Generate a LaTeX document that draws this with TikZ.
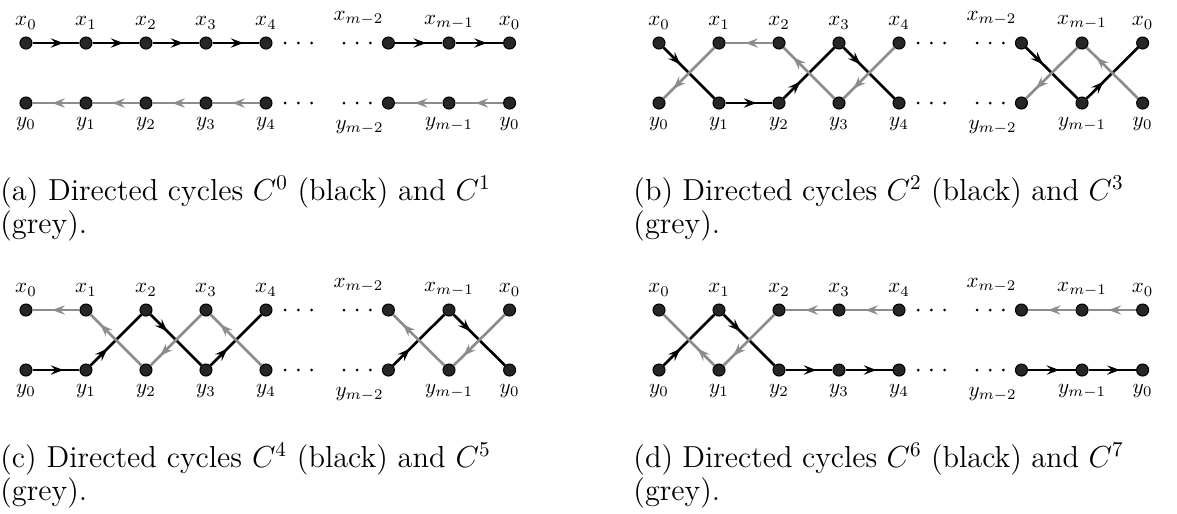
\documentclass[tikz,border=0pt]{standalone}
\usepackage{amsmath}
\usetikzlibrary{arrows.meta,decorations.markings}
\definecolor{cgrey}{gray}{0.55}

\begin{document}
\begin{tikzpicture}[
  vertex/.style={circle, draw=black, fill=black!85, line width=0.5pt, inner sep=0pt, minimum size=2mm},
  arrowat/.style={postaction={decorate}, decoration={markings, mark=at position #1 with {\arrow{Stealth[length=6pt,width=4.4pt,inset=2.2pt]}}}},
  blackarc/.style={line width=1.25pt, color=black, arrowat=#1},
  greyarc/.style={line width=1.25pt, color=cgrey, arrowat=#1},
  subcap/.style={anchor=north west, inner sep=0pt, font=\fontsize{14.4}{12.9}\selectfont}
]
  \useasboundingbox (-0.433,-7.833) rectangle (19.183,0.717);

  % vertices of the four panels
  \foreach \p/\ox/\oy in {a/0/0, b/10.55/0, c/0/-4.45, d/10.55/-4.45} {
    \begin{scope}[shift={(\ox,\oy)}]
      \foreach \i in {0,...,4} {
        \node[vertex, label=above:{$x_{\i}$}] (\p x\i) at (\i,0) {};
        \node[vertex, label=below:{$y_{\i}$}] (\p y\i) at (\i,-1) {};
      }
      \node[vertex, label={[xshift=-0.5cm,yshift=0.06cm]above:{$x_{m-2}$}}] (\p xa) at (6.04,0) {};
      \node[vertex, label=above:{$x_{m-1}$}] (\p xb) at (7.05,0) {};
      \node[vertex, label=above:{$x_0$}] (\p xc) at (8.06,0) {};
      \node[vertex, label={[xshift=-0.48cm,yshift=-0.05cm]below:{$y_{m-2}$}}] (\p ya) at (6.04,-1) {};
      \node[vertex, label=below:{$y_{m-1}$}] (\p yb) at (7.05,-1) {};
      \node[vertex, label=below:{$y_0$}] (\p yc) at (8.06,-1) {};
      \foreach \d in {4.32,4.54,4.76,5.3,5.52,5.74} {
        \fill (\d,0) circle (0.025);
        \fill (\d,-1) circle (0.025);
      }
    \end{scope}
  }

  % (a)
  \foreach \u/\v in {x0/x1, x1/x2, x2/x3, x3/x4, xa/xb, xb/xc}
    \draw[blackarc=0.66] (a\u) -- (a\v);
  \foreach \u/\v in {y1/y0, y2/y1, y3/y2, y4/y3, yb/ya, yc/yb}
    \draw[greyarc=0.58] (a\u) -- (a\v);

  % (b)
  \draw[blackarc=0.66] (by1) -- (by2);
  \foreach \u/\v in {x0/y1, y2/x3, x3/y4, xa/yb, yb/xc}
    \draw[blackarc=0.33] (b\u) -- (b\v);
  \draw[greyarc=0.58] (bx2) -- (bx1);
  \foreach \u/\v in {x1/y0, y3/x2, x4/y3, xb/ya, yc/xb}
    \draw[greyarc=0.81] (b\u) -- (b\v);

  % (c)
  \draw[blackarc=0.66] (cy0) -- (cy1);
  \foreach \u/\v in {y1/x2, x2/y3, y3/x4, ya/xb, xb/yc}
    \draw[blackarc=0.33] (c\u) -- (c\v);
  \draw[greyarc=0.58] (cx1) -- (cx0);
  \foreach \u/\v in {y2/x1, x3/y2, y4/x3, yb/xa, xc/yb}
    \draw[greyarc=0.81] (c\u) -- (c\v);

  % (d)
  \foreach \u/\v in {y0/x1, x1/y2}
    \draw[blackarc=0.33] (d\u) -- (d\v);
  \foreach \u/\v in {y2/y3, y3/y4, ya/yb, yb/yc}
    \draw[blackarc=0.66] (d\u) -- (d\v);
  \foreach \u/\v in {x4/x3, x3/x2, xc/xb, xb/xa}
    \draw[greyarc=0.58] (d\u) -- (d\v);
  \draw[greyarc=0.81] (dx2) -- (dy1);
  \draw[greyarc=0.33] (dy1) -- (dx0);

  % captions
  \node[subcap] (capa) at (-0.433,-2.21) {\parbox[t]{8.17cm}{(a) Directed cycles $C^0$ (black) and $C^1$ (grey).}};
  \node[subcap] (capb) at (10.117,-2.21) {\parbox[t]{8.17cm}{(b) Directed cycles $C^2$ (black) and $C^3$ (grey).}};
  \node[subcap] (capc) at (-0.433,-6.66) {\parbox[t]{8.17cm}{(c) Directed cycles $C^4$ (black) and $C^5$ (grey).}};
  \node[subcap] (capd) at (10.117,-6.66) {\parbox[t]{8.17cm}{(d) Directed cycles $C^6$ (black) and $C^7$ (grey).}};
\end{tikzpicture}
\end{document}
